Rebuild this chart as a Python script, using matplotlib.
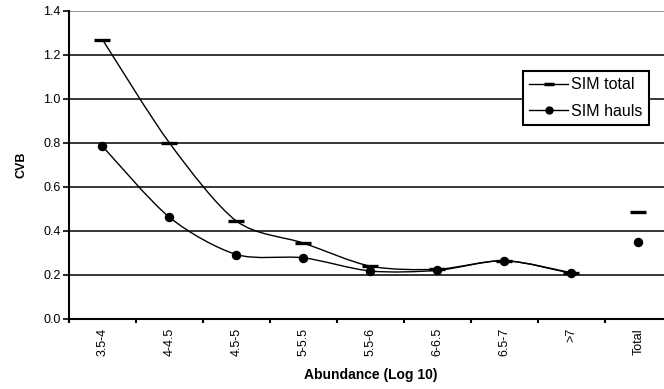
import numpy as np
import matplotlib
matplotlib.use("Agg")
import matplotlib.pyplot as plt
from matplotlib.path import Path
from matplotlib.patches import PathPatch
from matplotlib.lines import Line2D

plt.rcParams['font.family'] = ['Liberation Sans', 'DejaVu Sans']

# categories and values
categories = ['3.5-4', '4-4.5', '4.5-5', '5-5.5', '5.5-6', '6-6.5', '6.5-7', '>7', 'Total']
sim_total = [1.27, 0.80, 0.445, 0.345, 0.24, 0.226, 0.265, 0.21]
sim_hauls = [0.785, 0.462, 0.293, 0.278, 0.218, 0.221, 0.265, 0.207]
total_sim_total = 0.485
total_sim_hauls = 0.35
y_ticks = [0.0, 0.2, 0.4, 0.6, 0.8, 1.0, 1.2, 1.4]


def smooth_path(xs, ys, k=1.0 / 7):
    """Cubic bezier path through the points (Excel-style smoothed line)."""
    pts = np.column_stack([xs, ys]).astype(float)
    n = len(pts)
    verts = [pts[0]]
    codes = [Path.MOVETO]
    for i in range(n - 1):
        p0 = pts[i - 1] if i > 0 else pts[i]
        p1 = pts[i]
        p2 = pts[i + 1]
        p3 = pts[i + 2] if i + 2 < n else pts[i + 1]
        verts += [p1 + (p2 - p0) * k, p2 - (p3 - p1) * k, p2]
        codes += [Path.CURVE4] * 3
    return Path(verts, codes)


fig = plt.figure(figsize=(6.64, 3.89), dpi=100)
ax = fig.add_axes([0.1039, 0.18, 0.908, 0.7918])

x = np.arange(len(categories)) + 0.5
xl = x[:len(sim_total)]

ax.add_patch(PathPatch(smooth_path(xl, sim_total), fill=False, color='black', lw=1.0, zorder=3))
ax.add_patch(PathPatch(smooth_path(xl, sim_hauls), fill=False, color='black', lw=1.0, zorder=3))
ax.plot(xl, sim_total, linestyle='none', marker='_', ms=11.5, mew=2.4, color='black', zorder=4)
ax.plot(xl, sim_hauls, linestyle='none', marker='o', ms=5.8, color='black', zorder=4)
ax.plot([x[-1]], [total_sim_total], linestyle='none', marker='_', ms=11.5, mew=2.4, color='black', zorder=4)
ax.plot([x[-1]], [total_sim_hauls], linestyle='none', marker='o', ms=5.8, color='black', zorder=4)

ax.set_xlim(0, len(categories))
ax.set_ylim(0, 1.4)
ax.set_yticks(y_ticks)
ax.set_yticklabels(['%.1f' % v for v in y_ticks], fontsize=9)
ax.set_xticks(np.arange(0, len(categories) + 1))
ax.set_xticklabels([])
ax.set_xticks(x, minor=True)
ax.set_xticklabels(categories, minor=True, rotation=90, fontsize=9)
ax.tick_params(axis='x', which='minor', length=0, pad=6.5)
ax.tick_params(axis='x', which='major', direction='out', length=3, width=1.5, color='black')
ax.tick_params(axis='y', which='major', direction='out', length=4.5, width=1.2, color='black', pad=1.5)

for v in y_ticks[1:-1]:
    ax.axhline(v, color='black', lw=1.1, zorder=1)
ax.axhline(y_ticks[-1], color='#808080', lw=1.2, zorder=1)

for s in ['top', 'right']:
    ax.spines[s].set_visible(False)
for s in ['left', 'bottom']:
    ax.spines[s].set_linewidth(1.5)

ax.set_xlabel('Abundance (Log 10)', fontsize=10, fontweight='bold', va='center')
ax.xaxis.set_label_coords(0.5, -0.182)
ax.set_ylabel('CVB', fontsize=9, fontweight='bold', va='center')
ax.yaxis.set_label_coords(-0.078, 0.5)

handles = [Line2D([], [], color='black', lw=1.0, marker='_', ms=7, mew=2.5),
           Line2D([], [], color='black', lw=1.0, marker='o', ms=5)]
leg = ax.legend(handles, ['SIM total', 'SIM hauls'], loc='upper left',
                bbox_to_anchor=(0.753, 0.805), fontsize=11.5, frameon=True, fancybox=False,
                edgecolor='black', framealpha=1, borderpad=0.4, handlelength=2.4,
                handletextpad=0.2, labelspacing=0.7, borderaxespad=0)
leg.get_frame().set_linewidth(1.5)
leg.set_zorder(5)

fig.savefig('out.png', dpi=100)
